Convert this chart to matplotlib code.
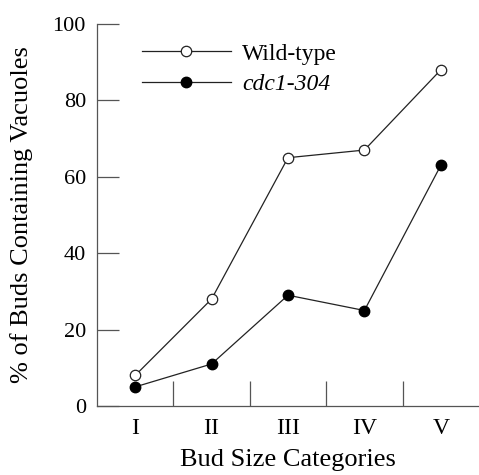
import matplotlib
matplotlib.use("Agg")
import matplotlib.pyplot as plt

categories = ["I", "II", "III", "IV", "V"]
wild_type = [8, 28, 65, 67, 88]
cdc1_304 = [5, 11, 29, 25, 63]
y_ticks = [0, 20, 40, 60, 80, 100]

plt.rcParams['font.family'] = ['Liberation Serif', 'DejaVu Serif']

fig = plt.figure(figsize=(4.79, 4.75), dpi=100)
ax = fig.add_axes([97 / 479, (475 - 406) / 475, 1 - 97 / 479, (406 - 24) / 475])

xpos = [i + 0.5 for i in range(len(categories))]
ax.plot(xpos, wild_type, color='#222222', lw=0.9, marker='o', ms=7.5,
        mfc='white', mec='#222222', mew=0.9, label='Wild-type')
ax.plot(xpos, cdc1_304, color='#222222', lw=0.9, marker='o', ms=7.5,
        mfc='black', mec='black', label='cdc1-304')

ax.set_xlim(0, 5)
ax.set_ylim(0, 100)

for s in ['top', 'right']:
    ax.spines[s].set_visible(False)
for s in ['left', 'bottom']:
    ax.spines[s].set_color('#555555')
    ax.spines[s].set_linewidth(0.9)

ax.set_yticks(y_ticks)
ax.set_yticklabels([str(v) for v in y_ticks])
ax.tick_params(axis='y', direction='in', length=16, width=0.9, color='#555555',
               pad=8, labelsize=16)

ax.set_xticks([1, 2, 3, 4])
ax.set_xticklabels([])
ax.set_xticks(xpos, minor=True)
ax.set_xticklabels(categories, minor=True)
ax.tick_params(axis='x', which='major', direction='in', length=18, width=0.9,
               color='#555555')
ax.tick_params(axis='x', which='minor', length=0, pad=9, labelsize=17)

ax.set_xlabel('Bud Size Categories', fontsize=19, labelpad=7)
ax.set_ylabel('% of Buds Containing Vacuoles', fontsize=19, labelpad=14)

leg = ax.legend(loc='upper left', bbox_to_anchor=(142 / 479, 1 - 43 / 475),
                bbox_transform=fig.transFigure, frameon=False, borderpad=0,
                borderaxespad=0, fontsize=17, handlelength=3.75,
                handletextpad=0.5, labelspacing=0.38)
leg.get_texts()[1].set_style('italic')

fig.savefig('out.png', dpi=100)
